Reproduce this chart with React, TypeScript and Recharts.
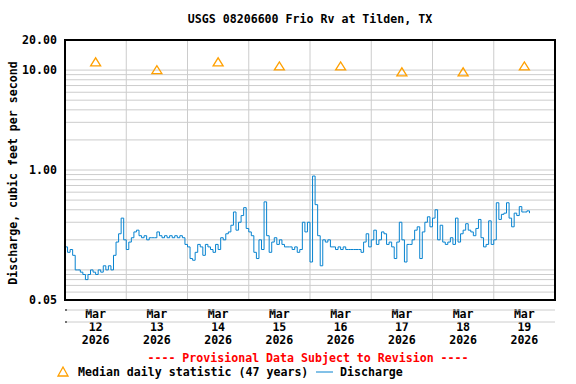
import React from 'react';
import {
  ComposedChart,
  Line,
  Scatter,
  XAxis,
  YAxis,
  CartesianGrid,
  ReferenceLine,
} from 'recharts';

// hourly discharge readings, cfs, starting Mar 12 00:00
const mar12 = [0.17, 0.15, 0.16, 0.14, 0.10, 0.10, 0.095, 0.09, 0.08, 0.09, 0.10, 0.095, 0.09, 0.10, 0.095, 0.11, 0.10, 0.11, 0.10, 0.14, 0.19, 0.23, 0.33, 0.20];
const mar13 = [0.16, 0.19, 0.21, 0.24, 0.25, 0.22, 0.21, 0.22, 0.20, 0.21, 0.21, 0.21, 0.24, 0.22, 0.21, 0.22, 0.21, 0.22, 0.21, 0.22, 0.21, 0.22, 0.21, 0.18];
const mar14 = [0.17, 0.13, 0.125, 0.15, 0.18, 0.17, 0.14, 0.18, 0.17, 0.16, 0.15, 0.18, 0.16, 0.21, 0.20, 0.23, 0.24, 0.28, 0.38, 0.25, 0.30, 0.35, 0.42, 0.26];
const mar15 = [0.24, 0.22, 0.15, 0.13, 0.20, 0.16, 0.48, 0.22, 0.15, 0.19, 0.21, 0.18, 0.20, 0.18, 0.17, 0.17, 0.17, 0.16, 0.17, 0.15, 0.16, 0.30, 0.24, 0.30];
const mar16 = [0.12, 0.87, 0.45, 0.22, 0.11, 0.20, 0.19, 0.20, 0.17, 0.17, 0.16, 0.17, 0.16, 0.17, 0.16, 0.16, 0.16, 0.16, 0.16, 0.16, 0.15, 0.19, 0.23, 0.17];
const mar17 = [0.20, 0.25, 0.18, 0.20, 0.24, 0.23, 0.18, 0.19, 0.17, 0.13, 0.19, 0.30, 0.20, 0.12, 0.18, 0.18, 0.20, 0.25, 0.27, 0.13, 0.24, 0.30, 0.34, 0.27];
const mar18 = [0.33, 0.40, 0.20, 0.28, 0.19, 0.18, 0.19, 0.21, 0.18, 0.33, 0.19, 0.23, 0.25, 0.29, 0.25, 0.24, 0.22, 0.26, 0.32, 0.21, 0.17, 0.18, 0.31, 0.18];
const mar19 = [0.20, 0.47, 0.32, 0.36, 0.37, 0.47, 0.33, 0.27, 0.37, 0.35, 0.43, 0.38, 0.38, 0.39, 0.37];

// median daily statistic, one per day (plotted at noon)
const medians = [12.1, 10.1, 12.1, 11.0, 11.0, 9.6, 9.6, 11.0];
const dayLabels = ['12', '13', '14', '15', '16', '17', '18', '19'];

const yTicks = [0.05, 0.06, 0.07, 0.08, 0.09, 0.1, 0.2, 0.3, 0.4, 0.5, 0.6, 0.7, 0.8, 0.9, 1, 2, 3, 4, 5, 6, 7, 8, 9, 10, 20];
const yLabelled = [0.05, 1, 10, 20];

const FONT = '"DejaVu Sans Mono", monospace';
const BLUE = '#0783d0';
const ORANGE = '#ffa000';
const GRID = '#cccccc';

const flowData = [mar12, mar13, mar14, mar15, mar16, mar17, mar18, mar19]
  .flat()
  .map((flow, hour) => ({ hour, flow }));
const medianData = medians.map((median, i) => ({ hour: i * 24 + 12, median }));
const dayTicks = Array.from({ length: 9 }, (_, i) => i * 24);
const noonTicks = medianData.map((d) => d.hour);

const Triangle = (props: any) => {
  const { cx, cy } = props;
  return (
    <path
      d={`M${cx - 5},${cy + 4} L${cx},${cy - 4} L${cx + 5},${cy + 4} Z`}
      fill="none"
      stroke={ORANGE}
      strokeWidth={1.3}
    />
  );
};

const YTick = (props: any) => {
  const { x, y, payload } = props;
  if (!yLabelled.includes(payload.value)) return null;
  return (
    <text x={x} y={y} textAnchor="end" dominantBaseline="central" fontFamily={FONT} fontWeight="bold" fontSize={11.6} fill="#000">
      {payload.value.toFixed(2)}
    </text>
  );
};

const DateTick = (props: any) => {
  const { x, payload } = props;
  const day = dayLabels[noonTicks.indexOf(payload.value)] ?? '';
  const style = { fontFamily: FONT, fontWeight: 'bold' as const, fontSize: 11.6, fill: '#000' };
  return (
    <g>
      <text x={x} y={314} textAnchor="middle" dominantBaseline="central" {...style}>Mar</text>
      <text x={x} y={327} textAnchor="middle" dominantBaseline="central" {...style}>{day}</text>
      <text x={x} y={340} textAnchor="middle" dominantBaseline="central" {...style}>2026</text>
    </g>
  );
};

export default function App() {
  const textStyle = { fontFamily: FONT, fontWeight: 'bold' as const, fontSize: 11.6 };
  return (
    <div style={{ position: 'absolute', left: 0, top: 0, width: 576, height: 384, background: '#fff' }}>
      <ComposedChart width={576} height={384} margin={{ top: 40, right: 21, bottom: 34, left: 0 }}>
        <CartesianGrid vertical={false} stroke={GRID} strokeWidth={1} />
        <XAxis
          type="number"
          dataKey="hour"
          domain={[0, 192]}
          ticks={noonTicks}
          interval={0}
          tick={<DateTick />}
          tickLine={false}
          axisLine={false}
          height={50}
        />
        <YAxis
          scale="log"
          domain={[0.05, 20]}
          allowDataOverflow
          ticks={yTicks}
          interval={0}
          tick={<YTick />}
          tickLine={false}
          axisLine={false}
          width={65}
        />
        {dayTicks.map((h) => (
          <ReferenceLine key={h} x={h} stroke={GRID} strokeWidth={1} />
        ))}
        <Line
          data={flowData}
          dataKey="flow"
          type="stepAfter"
          stroke={BLUE}
          strokeWidth={1}
          dot={false}
          isAnimationActive={false}
        />
        <Scatter
          data={medianData}
          dataKey="median"
          shape={<Triangle />}
          isAnimationActive={false}
        />
      </ComposedChart>
      <svg width={576} height={384} style={{ position: 'absolute', left: 0, top: 0, pointerEvents: 'none' }}>
        <rect x={65} y={40} width={490} height={260} fill="none" stroke="#000" strokeWidth={2} />
        <line x1={65} y1={310} x2={555} y2={310} stroke={GRID} />
        <line x1={65} y1={322} x2={555} y2={322} stroke={GRID} />
        <line x1={65} y1={310} x2={67} y2={310} stroke="#000" />
        <line x1={65} y1={322} x2={67} y2={322} stroke="#000" />
        <text x={310} y={19} textAnchor="middle" dominantBaseline="central" {...textStyle}>
          USGS 08206600 Frio Rv at Tilden, TX
        </text>
        <text transform="translate(13,173) rotate(-90)" textAnchor="middle" dominantBaseline="central" {...textStyle}>
          Discharge, cubic feet per second
        </text>
        <text x={308} y={358} textAnchor="middle" dominantBaseline="central" fill="#ff0000" {...textStyle}>
          ---- Provisional Data Subject to Revision ----
        </text>
        <path d="M58,376 L63,367 L68,376 Z" fill="none" stroke={ORANGE} strokeWidth={1.3} />
        <text x={78} y={372} dominantBaseline="central" {...textStyle}>
          Median daily statistic (47 years)
        </text>
        <line x1={316} y1={372} x2={333} y2={372} stroke={BLUE} strokeWidth={1} />
        <text x={340} y={372} dominantBaseline="central" {...textStyle}>
          Discharge
        </text>
      </svg>
    </div>
  );
}
